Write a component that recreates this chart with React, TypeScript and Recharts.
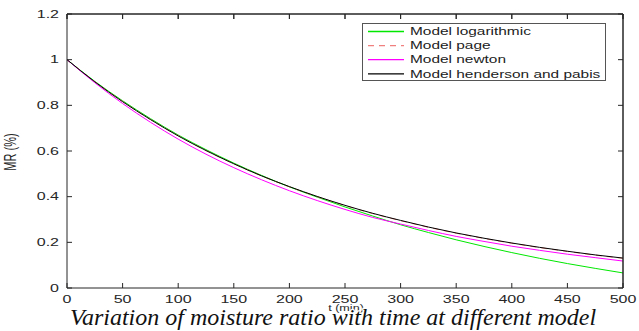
import React from "react";
import {
  LineChart,
  Line,
  XAxis,
  YAxis,
  Legend,
} from "recharts";

// drying time (min)
const timeMin = [0, 25, 50, 75, 100, 125, 150, 175, 200, 225, 250, 275, 300, 325, 350, 375, 400, 425, 450, 475, 500];

// moisture ratio predicted by each model
const logarithmic = [1.0, 0.905, 0.82, 0.742, 0.67, 0.606, 0.547, 0.493, 0.443, 0.398, 0.355, 0.315, 0.277, 0.243, 0.211, 0.182, 0.155, 0.13, 0.107, 0.086, 0.066];
const page = [1.0, 0.904, 0.817, 0.738, 0.667, 0.602, 0.544, 0.491, 0.443, 0.4, 0.361, 0.326, 0.295, 0.266, 0.24, 0.217, 0.196, 0.177, 0.16, 0.144, 0.13];
const newton = [1.0, 0.899, 0.808, 0.726, 0.652, 0.586, 0.527, 0.474, 0.426, 0.383, 0.344, 0.309, 0.28, 0.252, 0.226, 0.204, 0.183, 0.165, 0.148, 0.133, 0.118];
const henderson = [1.0, 0.903, 0.816, 0.738, 0.666, 0.602, 0.544, 0.491, 0.444, 0.401, 0.362, 0.327, 0.296, 0.267, 0.241, 0.218, 0.197, 0.178, 0.161, 0.145, 0.131];

const xTicks = [0, 50, 100, 150, 200, 250, 300, 350, 400, 450, 500];
const yTicks = [0, 0.2, 0.4, 0.6, 0.8, 1, 1.2];

const series = [
  { key: "log", name: "Model logarithmic", color: "#00e800", dash: undefined },
  { key: "page", name: "Model page", color: "#f08080", dash: "6 5" },
  { key: "newton", name: "Model newton", color: "#ff00ff", dash: undefined },
  { key: "hp", name: "Model henderson and pabis", color: "#000000", dash: undefined },
];

const rows = timeMin.map((t, i) => ({
  t,
  log: logarithmic[i],
  page: page[i],
  newton: newton[i],
  hp: henderson[i],
}));

const W = 639;
const H = 331;
const MARGIN = { top: 13, right: 15, bottom: 0, left: 0 };
const X_AXIS_H = 43;
const Y_AXIS_W = 67;
// plot box edges
const PLOT_LEFT = MARGIN.left + Y_AXIS_W;
const PLOT_RIGHT = W - MARGIN.right - 1;
const PLOT_TOP = MARGIN.top + 1;
const PLOT_BOTTOM = H - X_AXIS_H;

const AXIS = "#262626";
const FONT = "'Liberation Sans', Arial, sans-serif";
const STRETCH = 1.6;
const TICK_LEN = 5;

// labels are stretched sideways to match the wide figure text;
// each tick also marks the opposite side of the box
const BottomTick = (props: any) => {
  const { x, y, payload } = props;
  return (
    <g>
      <line x1={x} y1={PLOT_TOP} x2={x} y2={PLOT_TOP + TICK_LEN} stroke={AXIS} />
      <line x1={x} y1={PLOT_BOTTOM} x2={x} y2={PLOT_BOTTOM - TICK_LEN} stroke={AXIS} />
      <g transform={`translate(${x},${y}) scale(${STRETCH},1)`}>
        <text x={0} y={0} dy="0.71em" textAnchor="middle" fontSize={10} fontFamily={FONT} fill={AXIS}>
          {payload.value}
        </text>
      </g>
    </g>
  );
};

const LeftTick = (props: any) => {
  const { x, y, payload } = props;
  return (
    <g>
      <line x1={PLOT_LEFT} y1={y} x2={PLOT_LEFT + TICK_LEN} y2={y} stroke={AXIS} />
      <line x1={PLOT_RIGHT} y1={y} x2={PLOT_RIGHT - TICK_LEN} y2={y} stroke={AXIS} />
      <g transform={`translate(${x},${y}) scale(${STRETCH},1)`}>
        <text x={0} y={0} dy="0.36em" textAnchor="end" fontSize={10} fontFamily={FONT} fill={AXIS}>
          {payload.value}
        </text>
      </g>
    </g>
  );
};

const NoLabel = () => <g />;

const LegendBox = () => (
  <svg width={244} height={58} style={{ display: "block" }}>
    <rect x={0.5} y={0.5} width={243} height={57} fill="#fff" stroke="#555" />
    {series.map((s, i) => {
      const cy = 8.5 + i * 14.1;
      return (
        <g key={s.key}>
          <line x1={6} y1={cy} x2={42} y2={cy} stroke={s.color} strokeDasharray={s.dash} strokeWidth={1.3} />
          <g transform={`translate(48,${cy}) scale(1.47,1)`}>
            <text x={0} y={0} dy="0.36em" fontSize={10.5} fontFamily={FONT} fill="#222">
              {s.name}
            </text>
          </g>
        </g>
      );
    })}
  </svg>
);

export default function App() {
  return (
    <div style={{ position: "relative", width: W, height: H, background: "#fff" }}>
      <style>{`body{margin:0}`}</style>
      <LineChart width={W} height={H} data={rows} margin={MARGIN}>
        <XAxis
          dataKey="t"
          type="number"
          domain={[0, 500]}
          ticks={xTicks}
          height={X_AXIS_H}
          tickSize={0}
          tickLine={false}
          tickMargin={8}
          tick={<BottomTick />}
          stroke={AXIS}
          interval={0}
        />
        <XAxis
          xAxisId="top"
          orientation="top"
          dataKey="t"
          type="number"
          domain={[0, 500]}
          ticks={xTicks}
          height={1}
          tickSize={-TICK_LEN}
          tick={<NoLabel />}
          stroke={AXIS}
        />
        <YAxis
          type="number"
          domain={[0, 1.2]}
          ticks={yTicks}
          width={Y_AXIS_W}
          tickSize={0}
          tickLine={false}
          tickMargin={8}
          tick={<LeftTick />}
          stroke={AXIS}
          interval={0}
        />
        <YAxis
          yAxisId="right"
          orientation="right"
          type="number"
          domain={[0, 1.2]}
          ticks={yTicks}
          width={1}
          tickSize={-TICK_LEN}
          tick={<NoLabel />}
          stroke={AXIS}
        />
        <Legend
          layout="horizontal"
          verticalAlign="middle"
          content={() => <LegendBox />}
          wrapperStyle={{ position: "absolute", top: 23, left: 362, width: 244, height: 58 }}
        />
        {series.map((s) => (
          <Line
            key={s.key}
            type="monotone"
            dataKey={s.key}
            name={s.name}
            stroke={s.color}
            strokeWidth={1}
            strokeDasharray={s.dash}
            dot={false}
            activeDot={false}
            isAnimationActive={false}
          />
        ))}
      </LineChart>
      <svg width={W} height={H} style={{ position: "absolute", left: 0, top: 0, pointerEvents: "none" }}>
        {/* top and right edges of the box */}
        <polyline
          points={`${PLOT_LEFT},${PLOT_TOP} ${PLOT_RIGHT},${PLOT_TOP} ${PLOT_RIGHT},${PLOT_BOTTOM}`}
          fill="none"
          stroke={AXIS}
        />
        <g transform="translate(10,152) scale(1.5,1) rotate(-90)">
          <text x={0} y={0} dy="0.36em" textAnchor="middle" fontSize={11} fontFamily={FONT} fill={AXIS}>
            MR (%)
          </text>
        </g>
        <g transform="translate(346,305) scale(1.4,1)">
          <text x={0} y={0} dy="0.71em" textAnchor="middle" fontSize={9} fontFamily={FONT} fill={AXIS}>
            t (min)
          </text>
        </g>
        <text
          x={333}
          y={325}
          textAnchor="middle"
          fontSize={24}
          fontStyle="italic"
          fontFamily="'Liberation Serif', 'Times New Roman', serif"
          fill="#111"
          stroke="#fff"
          strokeWidth={2.5}
          paintOrder="stroke"
        >
          Variation of moisture ratio with time at different model
        </text>
      </svg>
    </div>
  );
}
